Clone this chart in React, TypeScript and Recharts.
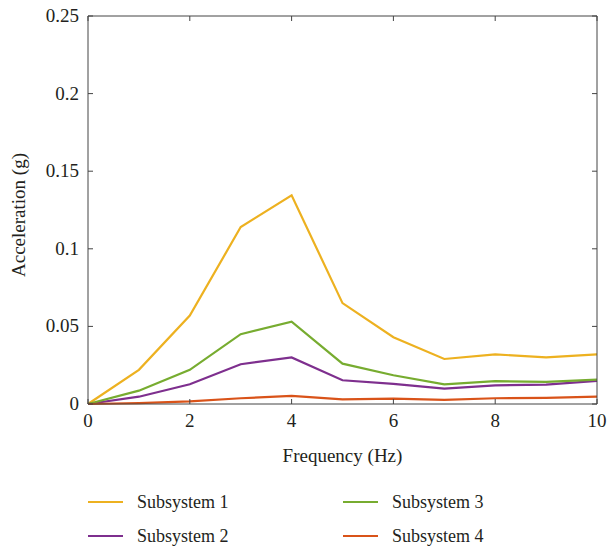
import { Line, LineChart, XAxis, YAxis } from "recharts";

const freq = [0, 1, 2, 3, 4, 5, 6, 7, 8, 9, 10];
const subsystem1 = [0, 0.022, 0.057, 0.114, 0.1345, 0.065, 0.043, 0.029, 0.032, 0.030, 0.032];
const subsystem2 = [0, 0.0047, 0.0127, 0.0256, 0.030, 0.0153, 0.013, 0.0099, 0.012, 0.0125, 0.0149];
const subsystem3 = [0, 0.0086, 0.022, 0.045, 0.053, 0.026, 0.0185, 0.0127, 0.0147, 0.0142, 0.0157];
const subsystem4 = [0, 0.0005, 0.0017, 0.0037, 0.0052, 0.003, 0.0034, 0.0026, 0.0037, 0.0039, 0.0047];

const xTicks = [0, 2, 4, 6, 8, 10];
const yTicks = [0, 0.05, 0.1, 0.15, 0.2, 0.25];

const series = [
  { key: "s1", name: "Subsystem 1", values: subsystem1, color: "#EDB120" },
  { key: "s2", name: "Subsystem 2", values: subsystem2, color: "#7E2F8E" },
  { key: "s3", name: "Subsystem 3", values: subsystem3, color: "#77AC30" },
  { key: "s4", name: "Subsystem 4", values: subsystem4, color: "#D95319" },
];

const data = freq.map((f, i) => {
  const row: Record<string, number> = { f };
  series.forEach((s) => (row[s.key] = s.values[i]));
  return row;
});

const FONT = "'Liberation Serif', 'DejaVu Serif', serif";
const AXIS = "#444";
const TEXT = "#231f20";
const FS = 19;

// MATLAB-ish inward ticks
const BottomTick = (props: any) => {
  const { x, y, payload } = props;
  return (
    <g>
      <line x1={x} x2={x} y1={y} y2={y - 5} stroke={AXIS} strokeWidth={1} />
      <text x={x} y={y + 23} textAnchor="middle" fontSize={FS} fontFamily={FONT} fill={TEXT}>
        {payload.value}
      </text>
    </g>
  );
};

const TopTick = (props: any) => {
  const { x, y } = props;
  return <line x1={x} x2={x} y1={y} y2={y + 5} stroke={AXIS} strokeWidth={1} />;
};

const LeftTick = (props: any) => {
  const { x, y, payload } = props;
  return (
    <g>
      <line x1={x} x2={x + 5} y1={y} y2={y} stroke={AXIS} strokeWidth={1} />
      <text x={x - 9} y={y + 6} textAnchor="end" fontSize={FS} fontFamily={FONT} fill={TEXT}>
        {payload.value}
      </text>
    </g>
  );
};

const RightTick = (props: any) => {
  const { x, y } = props;
  return <line x1={x} x2={x - 5} y1={y} y2={y} stroke={AXIS} strokeWidth={1} />;
};

const legendRows = [
  [series[0], series[2]],
  [series[1], series[3]],
];

export default function App() {
  return (
    <div style={{ position: "absolute", left: 0, top: 0, width: 610, height: 552, background: "#fff" }}>
      <LineChart width={610} height={552} data={data} margin={{ top: 15, right: 12, bottom: 0, left: 0 }}>
        <XAxis
          xAxisId="b"
          dataKey="f"
          type="number"
          domain={[0, 10]}
          ticks={xTicks}
          tickSize={0}
          tickMargin={0}
          tickLine={false}
          tick={<BottomTick />}
          stroke={AXIS}
          height={148}
          label={{ value: "Frequency (Hz)", position: "insideTop", dy: 40, fontSize: FS, fontFamily: FONT, fill: TEXT }}
        />
        <XAxis
          xAxisId="t"
          orientation="top"
          dataKey="f"
          type="number"
          domain={[0, 10]}
          ticks={xTicks}
          tickSize={0}
          tickMargin={0}
          tickLine={false}
          tick={<TopTick />}
          stroke={AXIS}
          height={1}
        />
        <YAxis
          yAxisId="l"
          type="number"
          domain={[0, 0.25]}
          ticks={yTicks}
          tickSize={0}
          tickMargin={0}
          tickLine={false}
          tick={<LeftTick />}
          stroke={AXIS}
          width={88}
          label={{ value: "Acceleration (g)", angle: -90, position: "insideLeft", dx: 13, dy: 67, fontSize: FS, fontFamily: FONT, fill: TEXT }}
        />
        <YAxis
          yAxisId="r"
          orientation="right"
          type="number"
          domain={[0, 0.25]}
          ticks={yTicks}
          tickSize={0}
          tickMargin={0}
          tickLine={false}
          tick={<RightTick />}
          stroke={AXIS}
          width={1}
        />
        {series.map((s) => (
          <Line
            key={s.key}
            xAxisId="b"
            yAxisId="l"
            type="linear"
            dataKey={s.key}
            name={s.name}
            stroke={s.color}
            strokeWidth={2.2}
            dot={false}
            isAnimationActive={false}
          />
        ))}
        {/* invisible series so the top/right frame axes get registered and drawn */}
        <Line
          xAxisId="t"
          yAxisId="r"
          dataKey="s1"
          stroke="none"
          dot={false}
          activeDot={false}
          legendType="none"
          isAnimationActive={false}
        />
      </LineChart>
      {legendRows.map((row, ri) =>
        row.map((s, ci) => (
          <div
            key={s.key}
            style={{
              position: "absolute",
              left: ci === 0 ? 88 : 343,
              top: 502 + ri * 34 - 12,
              height: 24,
              display: "flex",
              alignItems: "center",
              fontFamily: FONT,
              fontSize: 18,
              color: TEXT,
            }}
          >
            <span style={{ display: "inline-block", width: 35, height: 2, background: s.color, marginRight: 14 }} />
            {s.name}
          </div>
        ))
      )}
    </div>
  );
}
